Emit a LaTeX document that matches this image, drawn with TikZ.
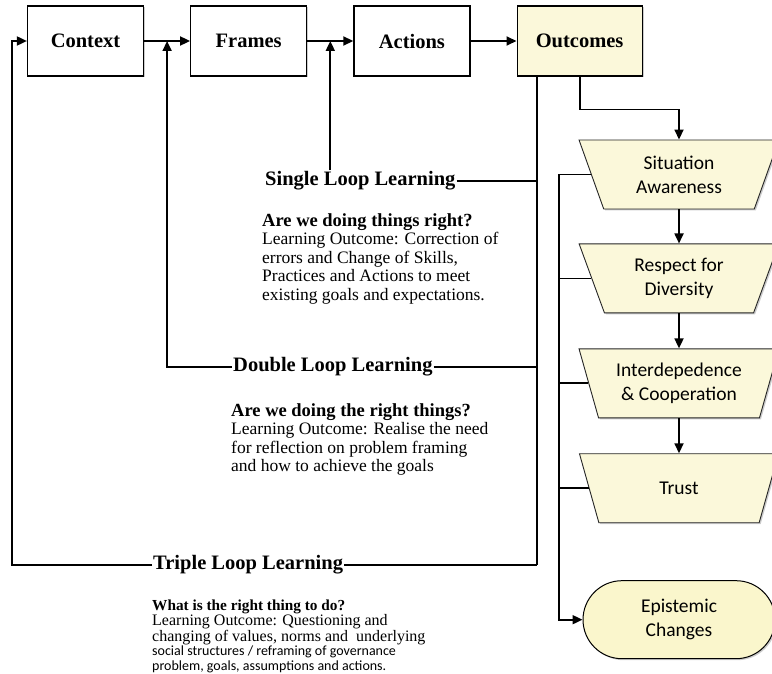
\documentclass[tikz,border=0pt]{standalone}
\usepackage{fontspec}
\setmainfont{Liberation Serif}
\newfontfamily\sansbody{Carlito}
\usetikzlibrary{shapes.geometric, shapes.misc, arrows.meta, positioning, calc, shadows}
\definecolor{paleyellow}{HTML}{FBF8DA}
\definecolor{epiyellow}{HTML}{FAF6CC}

\begin{document}
\begin{tikzpicture}[
    x=1pt, y=-1pt,
    stage/.style={rectangle, draw=black, line width=1.2pt, fill=white, minimum width=116pt, minimum height=70pt, inner sep=0pt, font=\fontsize{20.5}{24}\selectfont\bfseries, drop shadow={shadow xshift=1.5pt, shadow yshift=-1.5pt, fill=black!40}},
    result/.style={trapezium, trapezium stretches=true, trapezium angle=69.4, shape border rotate=180, draw=black!85, line width=0.9pt, fill=paleyellow, minimum width=200pt, minimum height=69pt, inner sep=0pt, align=center, font=\sansbody\fontsize{19.5}{23.8}\selectfont, drop shadow={shadow xshift=1.5pt, shadow yshift=-1.5pt, fill=black!40}},
    epistemicbox/.style={rounded rectangle, draw=black, line width=1pt, fill=epiyellow, minimum width=192pt, minimum height=78pt, inner sep=0pt, align=center, font=\sansbody\fontsize{19.5}{23.8}\selectfont, drop shadow={shadow xshift=1.5pt, shadow yshift=-1.5pt, fill=black!40}},
    looplabel/.style={inner sep=1pt, font=\fontsize{20.5}{24}\selectfont\bfseries},
    note/.style={inner sep=0pt, align=left, font=\fontsize{17.5}{18.5}\selectfont},
    arrow/.style={-{Triangle[length=10pt, width=9pt]}, line width=1.8pt},
    link/.style={line width=1.8pt}
]
\useasboundingbox (0,0) rectangle (772,674);

% Stages
\node[stage] (context) at (85.5,41) {Context};
\node[stage, right=46pt of context] (frames) {Frames};
\node[stage, right=46pt of frames] (actions) {Actions};
\node[stage, fill=paleyellow, minimum width=125pt, right=46pt of actions] (outcomes) {Outcomes};

% Outcome column
\node[result] (aware) at (679,174.5) {Situation\\Awareness};
\node[result, below=34pt of aware] (diverse) {Respect for\\Diversity};
\node[result, below=35pt of diverse] (coop) {Interdepedence\\\& Cooperation};
\node[result, below=35pt of coop] (trust) {Trust};
\node[epistemicbox, below=57pt of trust] (epistemic) {Epistemic\\Changes};

% Loops
\node[looplabel, anchor=west] (single) at (264,181) {Single Loop Learning};
\node[looplabel, anchor=west] (double) at (232,367) {Double Loop Learning};
\node[looplabel, anchor=west] (triple) at (152,565) {Triple Loop Learning};

\node[note, anchor=north west] (singlenote) at (262,213) {{\fontsize{18.5}{18.5}\selectfont\bfseries Are we doing things right?}\\Learning Outcome: Correction of\\errors and Change of Skills,\\Practices and Actions to meet\\existing goals and expectations.};
\node[note, anchor=north west] (doublenote) at (231,403) {{\fontsize{18.5}{18.5}\selectfont\bfseries Are we doing the right things?}\\Learning Outcome: Realise the need\\for reflection on problem framing\\and how to achieve the goals};
\node[note, anchor=north west, font=\fontsize{16}{14.5}\selectfont] (triplenote) at (152,600) {{\fontsize{15.3}{14.5}\selectfont\bfseries What is the right thing to do?}\\Learning Outcome: Questioning and\\changing of values, norms and~ underlying\\{\sansbody\fontsize{14}{14.5}\selectfont social structures / reframing of governance}\\{\sansbody\fontsize{14}{14.5}\selectfont problem, goals, assumptions and actions.}};

% Junctions
\coordinate (trunk) at (537,0);
\coordinate (bus) at (559,0);
\coordinate (edge) at (12,0);
\coordinate (j1) at ($(context.east)!0.5!(frames.west)$);
\coordinate (j2) at ($(frames.east)!0.5!(actions.west)$);

% Arrows
\draw[arrow] (context) -- (frames);
\draw[arrow] (frames) -- (actions);
\draw[arrow] (actions) -- (outcomes);

\draw[link] (outcomes.south -| trunk) -- (triple.east -| trunk);
\draw[link] (single.east) -- (single.east -| trunk);
\draw[link] (double.east) -- (double.east -| trunk);
\draw[link] (triple.east) -- (triple.east -| trunk);
\draw[arrow] (single.north -| j2) -- (j2);
\draw[arrow] (double.west) -| (j1);
\draw[arrow] (triple.west) -- (triple.west -| edge) |- (context.west);

\draw[arrow] (outcomes.south) |- ($(aware.north)+(0,-30)$) -- (aware.north);
\foreach \a/\b in {aware/diverse, diverse/coop, coop/trust}
    \draw[arrow] (\a.south) -- (\b.north);

\draw[arrow] (aware.west) -- (aware.west -| bus) |- (epistemic.west);
\foreach \n in {diverse, coop, trust}
    \draw[link] (\n.west) -- (\n.west -| bus);

\end{tikzpicture}
\end{document}
